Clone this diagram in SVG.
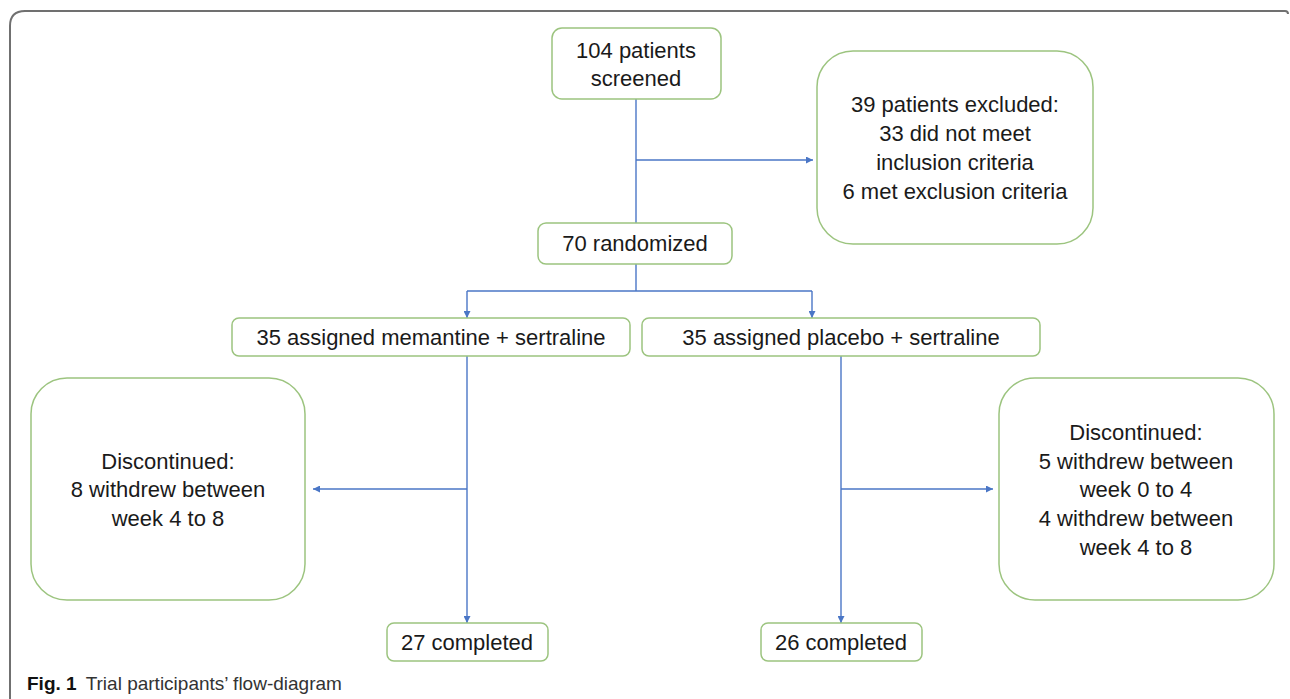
<svg xmlns="http://www.w3.org/2000/svg" width="1290" height="699" viewBox="0 0 1290 699">
<defs>
<style>
.box{fill:#fff;stroke:#9cc47f;stroke-width:1.5}
.t{font-family:"Liberation Sans",Arial,sans-serif;font-size:22px;fill:#1a1a1a;text-anchor:middle;dominant-baseline:central}
.c{fill:none;stroke:#4a76c6;stroke-width:1.4}
.frame{fill:none;stroke:#707070;stroke-width:2}
.cap{font-family:"Liberation Sans",Arial,sans-serif;font-size:19px;fill:#222}
</style>
<marker id="ah" viewBox="0 0 10 10" refX="10" refY="5" markerWidth="7" markerHeight="7" markerUnits="userSpaceOnUse" orient="auto">
<path d="M0,0 L10,5 L0,10 z" fill="#4a76c6"/>
</marker>
</defs>
<rect width="1290" height="699" fill="#fff"/>
<path class="frame" d="M10,699 V26 Q10,11 25,11 H1285 Q1288,11 1288,14"/>
<g id="connectors">
<path class="c" d="M636,99 V223"/>
<path class="c" d="M636,160 H813" marker-end="url(#ah)"/>
<path class="c" d="M636,264 V291"/>
<path class="c" d="M467,291 H812"/>
<path class="c" d="M467,291 V318" marker-end="url(#ah)"/>
<path class="c" d="M812,291 V318" marker-end="url(#ah)"/>
<path class="c" d="M467,356 V623" marker-end="url(#ah)"/>
<path class="c" d="M467,489 H313" marker-end="url(#ah)"/>
<path class="c" d="M841,356 V623" marker-end="url(#ah)"/>
<path class="c" d="M841,489 H993" marker-end="url(#ah)"/>
</g>
<g id="screened">
<rect class="box" x="552" y="28" width="169" height="71" rx="10"/>
<text class="t" x="636" y="50">104 patients</text>
<text class="t" x="636" y="78">screened</text>
</g>
<g id="excluded">
<rect class="box" x="817" y="51" width="276" height="193" rx="36"/>
<text class="t" x="955" y="104">39 patients excluded:</text>
<text class="t" x="955" y="133">33 did not meet</text>
<text class="t" x="955" y="162">inclusion criteria</text>
<text class="t" x="955" y="191">6 met exclusion criteria</text>
</g>
<g id="randomized">
<rect class="box" x="538" y="223" width="194" height="41" rx="8"/>
<text class="t" x="635" y="243">70 randomized</text>
</g>
<g id="memantine">
<rect class="box" x="232" y="318" width="398" height="38" rx="7"/>
<text class="t" x="431" y="337">35 assigned memantine + sertraline</text>
</g>
<g id="placebo">
<rect class="box" x="642" y="318" width="398" height="38" rx="7"/>
<text class="t" x="841" y="337">35 assigned placebo + sertraline</text>
</g>
<g id="disc-left">
<rect class="box" x="31" y="378" width="274" height="222" rx="36"/>
<text class="t" x="168" y="461">Discontinued:</text>
<text class="t" x="168" y="489">8 withdrew between</text>
<text class="t" x="168" y="518">week 4 to 8</text>
</g>
<g id="disc-right">
<rect class="box" x="999" y="378" width="275" height="222" rx="36"/>
<text class="t" x="1136" y="432">Discontinued:</text>
<text class="t" x="1136" y="461">5 withdrew between</text>
<text class="t" x="1136" y="489">week 0 to 4</text>
<text class="t" x="1136" y="518">4 withdrew between</text>
<text class="t" x="1136" y="547">week 4 to 8</text>
</g>
<g id="completed-left">
<rect class="box" x="387" y="623" width="161" height="38" rx="7"/>
<text class="t" x="467" y="642">27 completed</text>
</g>
<g id="completed-right">
<rect class="box" x="761" y="623" width="161" height="38" rx="7"/>
<text class="t" x="841" y="642">26 completed</text>
</g>
<text class="cap" x="27" y="690"><tspan font-weight="bold" fill="#111">Fig. 1</tspan><tspan dx="9" fill="#333">Trial participants’ flow-diagram</tspan></text>
</svg>
